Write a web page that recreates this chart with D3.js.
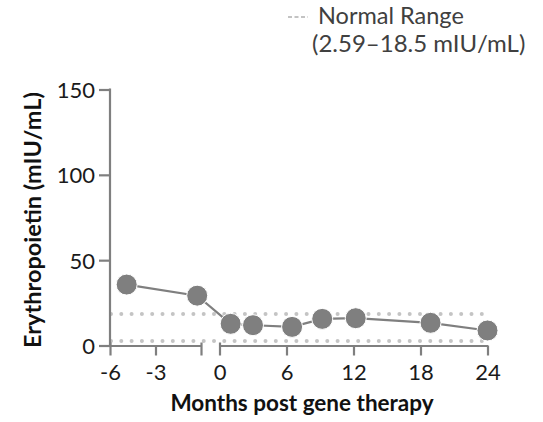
<!DOCTYPE html>
<html>
<head>
<meta charset="utf-8">
<script src="https://cdn.jsdelivr.net/npm/d3@7"></script>
<style>
	body { margin: 0; background: #fff; }
	svg text { font-family: Lato, "Open Sans", sans-serif; }
</style>
</head>
<body>
<div id="chart"></div>
<script>
(function() {
	// data
	var months = [-4.9, -0.25, 1, 3, 6.5, 9.2, 12.2, 18.9, 24];
	var epo = [35.7, 29.2, 12.7, 11.9, 10.9, 15.6, 16, 13.3, 8.8];
	var normalRange = [2.59, 18.5];
	var yTicks = [0, 50, 100, 150];
	var preTicks = [-6, -3, 0];
	var postTicks = [0, 6, 12, 18, 24];

	var width = 543;
	var height = 422;
	var grey = "#7f7f7f";

	var svg = d3.select("#chart")
		.append("svg")
		.attr("width", width)
		.attr("height", height);

	// broken x axis: before and after gene therapy
	var xPre = d3.scaleLinear().domain([-6, 0]).range([110, 201]);
	var xPost = d3.scaleLinear().domain([0, 24]).range([219.5, 487.5]);
	var y = d3.scaleLinear().domain([0, 150]).range([345.5, 89.5]);
	function x(m) {
		return m < 0 ? xPre(m) : xPost(m);
	}

	// normal range dotted lines
	svg.append("g")
		.selectAll("line")
		.data(normalRange)
		.enter()
		.append("line")
		.attr("x1", xPre(-6) + 1)
		.attr("x2", xPost(24) + 2)
		.attr("y1", function(d) { return y(d); })
		.attr("y2", function(d) { return y(d); })
		.attr("stroke", "#c4c4c4")
		.attr("stroke-width", 4)
		.attr("stroke-linecap", "round")
		.attr("stroke-dasharray", "0 10.3");

	// axes
	function styleAxis(g) {
		g.selectAll(".domain").attr("stroke", grey).attr("stroke-width", 2.2);
		g.selectAll(".tick line").attr("stroke", grey).attr("stroke-width", 2.2);
		g.selectAll(".tick text")
			.attr("fill", "#1a1a1a")
			.style("font-size", "22px");
	}

	var yAxis = svg.append("g")
		.attr("transform", "translate(110,0)")
		.call(d3.axisLeft(y).tickValues(yTicks).tickSize(11).tickSizeOuter(0).tickPadding(4));
	styleAxis(yAxis);
	yAxis.selectAll(".tick text").attr("dy", "0.36em");
	yAxis.select(".domain").attr("d", "M0," + (y(150) - 1) + "V" + y(0));

	var xAxisPre = svg.append("g")
		.attr("transform", "translate(0," + y(0) + ")")
		.call(d3.axisBottom(xPre).tickValues(preTicks).tickSize(10).tickSizeOuter(0).tickPadding(9)
			.tickFormat(function(d) { return d === 0 ? "" : d; }));
	styleAxis(xAxisPre);

	var xAxisPost = svg.append("g")
		.attr("transform", "translate(0," + y(0) + ")")
		.call(d3.axisBottom(xPost).tickValues(postTicks).tickSize(10).tickSizeOuter(0).tickPadding(9));
	styleAxis(xAxisPost);

	// break ends poke above the axis line
	xAxisPre.selectAll(".tick line").filter(function(d) { return d === 0 || d === -6; }).attr("y1", -3);
	xAxisPost.selectAll(".tick line").filter(function(d) { return d === 0; }).attr("y1", -3);

	// connecting line and points
	var pts = months.map(function(m, i) { return [m, epo[i]]; });
	svg.append("path")
		.datum(pts)
		.attr("fill", "none")
		.attr("stroke", grey)
		.attr("stroke-width", 2.2)
		.attr("d", d3.line()
			.x(function(d) { return x(d[0]); })
			.y(function(d) { return y(d[1]); }));

	svg.append("g")
		.selectAll("circle")
		.data(pts)
		.enter()
		.append("circle")
		.attr("cx", function(d) { return x(d[0]); })
		.attr("cy", function(d) { return y(d[1]); })
		.attr("r", 10.5)
		.attr("fill", grey)
		.attr("stroke", "#fff")
		.attr("stroke-width", 1);

	// axis titles
	svg.append("text")
		.attr("x", 302)
		.attr("y", 411)
		.attr("text-anchor", "middle")
		.attr("fill", "#111")
		.style("font-size", "22.5px")
		.style("font-weight", "bold")
		.text("Months post gene therapy");

	svg.append("text")
		.attr("transform", "translate(41,220) rotate(-90)")
		.attr("text-anchor", "middle")
		.attr("fill", "#111")
		.style("font-size", "23.5px")
		.style("font-weight", "bold")
		.text("Erythropoietin (mIU/mL)");

	// legend
	var legend = svg.append("g");
	legend.append("line")
		.attr("x1", 288).attr("x2", 308)
		.attr("y1", 17).attr("y2", 17)
		.attr("stroke", "#b0b0b0")
		.attr("stroke-width", 1.5)
		.attr("stroke-dasharray", "4 2.5");
	legend.append("text")
		.attr("x", 318).attr("y", 24)
		.attr("fill", "#404040")
		.style("font-size", "23.5px")
		.text("Normal Range");
	legend.append("text")
		.attr("x", 312).attr("y", 52)
		.attr("fill", "#404040")
		.style("font-size", "24px")
		.text("(2.59\u201318.5 mIU/mL)");
})();
</script>
</body>
</html>
